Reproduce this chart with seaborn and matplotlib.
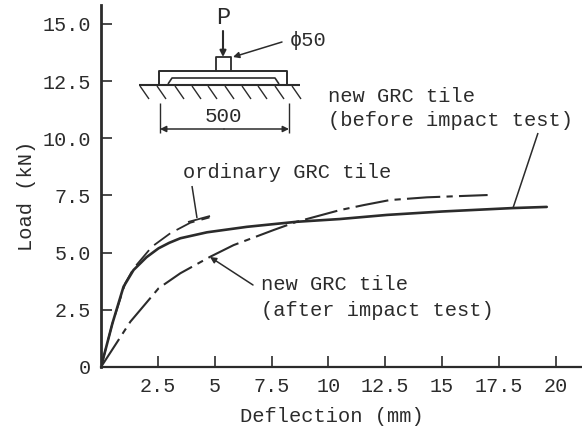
import matplotlib
matplotlib.use("Agg")
import matplotlib.pyplot as plt
import pandas as pd
import seaborn as sns
from matplotlib.lines import Line2D
from matplotlib.patches import FancyArrowPatch
from matplotlib.transforms import Affine2D

# values
before_x = [0, 0.5, 0.99, 1.43, 2.0, 2.53, 3.0, 3.49, 4.66, 6.42, 8.6, 10.5, 12.57, 15.0, 18.1, 19.6]
before_y = [0, 1.9, 3.51, 4.24, 4.8, 5.19, 5.43, 5.63, 5.89, 6.13, 6.35, 6.47, 6.65, 6.8, 6.95, 7.0]
ordinary_x = [0, 0.5, 1.07, 1.43, 2.24, 3.05, 3.93, 4.77]
ordinary_y = [0, 1.9, 3.67, 4.31, 5.26, 5.85, 6.31, 6.54]
after_x = [0, 1.29, 2.53, 3.49, 4.8, 5.83, 7.59, 8.6, 10.5, 11.55, 12.7, 14.33, 17.0]
after_y = [0, 1.98, 3.44, 4.1, 4.82, 5.33, 5.99, 6.35, 6.86, 7.08, 7.3, 7.42, 7.52]

x_ticks = [2.5, 5, 7.5, 10, 12.5, 15, 17.5, 20]
x_labels = ["2.5", "5", "7.5", "10", "12.5", "15", "17.5", "20"]
y_ticks = [0, 2.5, 5, 7.5, 10, 12.5, 15]
y_labels = ["0", "2.5", "5.0", "7.5", "10.0", "12.5", "15.0"]

INK = "#2b2b2b"
W, H = 582, 432

df = pd.concat([
    pd.DataFrame({"x": before_x, "y": before_y, "tile": "before"}),
    pd.DataFrame({"x": ordinary_x, "y": ordinary_y, "tile": "ordinary"}),
    pd.DataFrame({"x": after_x, "y": after_y, "tile": "after"}),
])

sns.set_style("white")
plt.rcParams["font.family"] = ["Liberation Mono", "DejaVu Sans"]

fig = plt.figure(figsize=(W / 100, H / 100), dpi=100)
ax = fig.add_axes([101 / W, (H - 367) / H, (W - 101) / W, 362 / H])

sns.lineplot(data=df[df.tile == "before"], x="x", y="y", color=INK, lw=1.9,
             sort=False, errorbar=None, ax=ax)
sns.lineplot(data=df[df.tile == "ordinary"], x="x", y="y", color=INK, lw=1.3,
             sort=False, errorbar=None, ax=ax, dashes=(11, 4))
sns.lineplot(data=df[df.tile == "after"], x="x", y="y", color=INK, lw=1.5,
             sort=False, errorbar=None, ax=ax, dashes=(16, 3, 3, 3))

ax.set_xlim(0, 21.15)
ax.set_ylim(0, 15.83)
ax.set_xticks(x_ticks, x_labels)
ax.set_yticks(y_ticks, y_labels)
ax.tick_params(direction="in", length=8, width=1.2, pad=7, labelsize=14.5,
               colors=INK, bottom=True, left=True)
ax.set_xlabel("Deflection (mm)", fontsize=14.7, color=INK)
ax.set_ylabel("Load (kN)", fontsize=14.7, color=INK)
ax.xaxis.set_label_coords((332 - 101) / (W - 101), -49 / 362, transform=ax.transAxes)
ax.yaxis.set_label_coords((26 - 101) / (W - 101), (367 - 196) / 362, transform=ax.transAxes)
ax.xaxis.label.set_va("center")
ax.yaxis.label.set_va("center")
sns.despine(ax=ax)
ax.spines["left"].set_linewidth(2)
ax.spines["bottom"].set_linewidth(1.6)
ax.spines["left"].set_color(INK)
ax.spines["bottom"].set_color(INK)

# everything below is the sketch and labels, placed in image pixels
px = Affine2D().scale(1 / W, -1 / H).translate(0, 1) + fig.transFigure


def seg(xs, ys, lw=1.2):
    fig.add_artist(Line2D(xs, ys, color=INK, lw=lw, transform=px, solid_capstyle="butt"))


def arrow(start, end, style="-|>", lw=1.1, scale=9):
    fig.add_artist(FancyArrowPatch(start, end, arrowstyle=style, mutation_scale=scale,
                                   color=INK, lw=lw, transform=px, shrinkA=0, shrinkB=0))


def label(x, y, s, size=14.7, ha="left"):
    fig.text(x, y, s, transform=px, fontsize=size, color=INK, ha=ha, va="center")


seg([139, 300], [85, 85], 1.5)
for hx in [140, 157, 175, 192, 208, 225, 242, 258, 275, 292]:
    seg([hx, hx + 9], [86, 99], 1.0)
seg([159, 159, 287, 287], [85, 71, 71, 85], 1.4)
seg([168, 172, 275, 279], [84, 78, 78, 84], 1.2)
seg([216, 216, 231, 231], [71, 57, 57, 71], 1.3)
arrow((223, 31), (223, 57), lw=1.5)
label(223, 18, "P", ha="center", size=17)
arrow((282, 42), (233, 57))
label(290, 40, "\u03d550", size=14.7)
seg([160, 160], [103, 133], 1.0)
seg([289, 289], [103, 133], 1.0)
arrow((224, 129), (160, 129))
arrow((224, 129), (289, 129))
label(223, 117, "500", ha="center", size=15)

label(183, 172, "ordinary GRC tile")
seg([192, 197], [186, 218], 1.1)
seg([188, 210], [222, 216], 1.3)
label(328, 96, "new GRC tile")
label(328, 120, "(before impact test)")
seg([538, 513], [133, 208], 1.1)
label(261, 285, "new GRC tile")
label(261, 310, "(after impact test)")
arrow((253, 285), (210, 257))

fig.savefig("out.png", dpi=100)
